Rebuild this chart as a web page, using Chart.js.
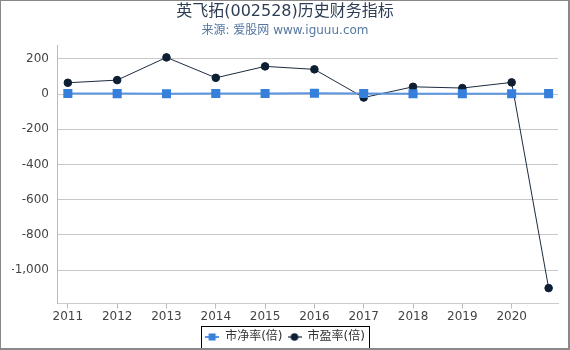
<!DOCTYPE html>
<html>
<head>
<meta charset="utf-8">
<script src="https://cdn.jsdelivr.net/npm/chart.js@4.4.1/dist/chart.umd.min.js"></script>
<style>
  html, body { margin: 0; padding: 0; background: #fff; }
  #wrap { position: absolute; left: 0; top: 0; width: 567px; height: 347px;
          border-left: 1px solid #888; border-top: 1px solid #888;
          border-right: 2px solid #888; border-bottom: 2px solid #888; overflow: hidden; }
  canvas { position: absolute; left: -1px; top: -1px; }
</style>
</head>
<body>
<div id="wrap"><canvas id="c" width="570" height="350"></canvas></div>
<script>
const titleText = '英飞拓(002528)历史财务指标';
const subtitleText = '来源: 爱股网 www.iguuu.com';
const seriesNames = ['市净率(倍)', '市盈率(倍)'];
const xPositions = [2011, 2012, 2013, 2014, 2015, 2016, 2017, 2018, 2019, 2020, 2020.75];
const tickYears = [2011, 2012, 2013, 2014, 2015, 2016, 2017, 2018, 2019, 2020];
const yTicks = [-1000, -800, -600, -400, -200, 0, 200];
const pbValues = [3.5, 2.4, 2.0, 3.4, 3.0, 4.6, 2.6, 2.0, 1.7, 1.9, 2.2];
const peValues = [64, 79, 208, 92, 157, 140, -20, 41, 34, 66, -1102];

const FONT = '"DejaVu Sans", "Noto Sans CJK SC", sans-serif';
const pbLine = '#5d95e0', pbMark = '#3680dc';
const peLine = '#1b2b40', peMark = '#0e1f33';

function legendIcon(lineColor, markColor, shape) {
  const c = document.createElement('canvas');
  c.width = 14; c.height = 10;
  const g = c.getContext('2d');
  g.strokeStyle = lineColor; g.lineWidth = shape === 'rect' ? 2 : 1.2;
  g.beginPath(); g.moveTo(0, 5); g.lineTo(14, 5); g.stroke();
  g.fillStyle = markColor;
  if (shape === 'rect') { g.fillRect(3.5, 1.5, 7, 7); }
  else { g.beginPath(); g.arc(7, 5, 3.8, 0, Math.PI * 2); g.fill(); }
  return c;
}
const icons = [legendIcon(pbLine, pbMark, 'rect'), legendIcon(peLine, peMark, 'circle')];

const pts = (vals) => vals.map((v, i) => ({ x: xPositions[i], y: v }));

const legendBox = {
  id: 'legendBox',
  afterDraw(chart) {
    const boxes = chart.legend && chart.legend.legendHitBoxes;
    if (!boxes || !boxes.length) return;
    let l = Infinity, r = -Infinity, t = Infinity, b = -Infinity;
    boxes.forEach(h => { l = Math.min(l, h.left); r = Math.max(r, h.left + h.width);
      t = Math.min(t, h.top); b = Math.max(b, h.top + h.height); });
    const ctx = chart.ctx;
    ctx.save();
    ctx.strokeStyle = '#000'; ctx.lineWidth = 1;
    ctx.strokeRect(Math.round(l - 4) + 0.5, Math.round(t - 5) + 0.5, Math.round(r - l + 8), Math.round(b - t + 10));
    ctx.restore();
  }
};

new Chart(document.getElementById('c'), {
  type: 'line',
  data: {
    datasets: [
      { label: seriesNames[0], data: pts(pbValues), borderColor: pbLine, backgroundColor: pbMark,
        pointBackgroundColor: pbMark, pointBorderColor: pbMark, pointStyle: 'rect', pointRadius: 5,
        borderWidth: 2, tension: 0 },
      { label: seriesNames[1], data: pts(peValues), borderColor: peLine, backgroundColor: peMark,
        pointBackgroundColor: peMark, pointBorderColor: peMark, pointStyle: 'circle', pointRadius: 3.8,
        borderWidth: 1, tension: 0 }
    ]
  },
  options: {
    responsive: false,
    animation: false,
    devicePixelRatio: 1,
    layout: { padding: { left: 12, right: 12, top: 0, bottom: -3 } },
    plugins: {
      title: { display: true, text: titleText, color: '#2d3d55',
        font: { family: FONT, size: 16, weight: 'normal' }, padding: { top: 2, bottom: 2 } },
      subtitle: { display: true, text: subtitleText, color: '#5577a0',
        font: { family: FONT, size: 12, weight: 'normal' }, padding: { top: 0, bottom: 8 } },
      legend: { position: 'bottom',
        labels: { color: '#333', font: { family: FONT, size: 12 }, usePointStyle: true,
          pointStyleWidth: 14, padding: 5,
          generateLabels(chart) {
            return chart.data.datasets.map((ds, i) => ({ text: ds.label, pointStyle: icons[i],
              fillStyle: ds.backgroundColor, strokeStyle: ds.borderColor, lineWidth: 0,
              fontColor: '#333', datasetIndex: i, hidden: false }));
          } } },
      tooltip: { enabled: false }
    },
    scales: {
      x: { type: 'linear', min: 2010.78, max: 2020.94,
        afterBuildTicks(s) { s.ticks = tickYears.map(v => ({ value: v })); },
        afterFit(s) { s.height += 1; },
        grid: { drawOnChartArea: false, drawTicks: true, tickLength: 5, tickColor: '#bbb' },
        border: { color: '#ccc' },
        ticks: { color: '#444', font: { family: FONT, size: 12 }, padding: 1, maxRotation: 0, autoSkip: false,
          callback: v => String(v) } },
      y: { min: -1190, max: 275,
        afterBuildTicks(s) { s.ticks = yTicks.map(v => ({ value: v })); },
        afterFit(s) { s.width = 45; },
        grid: { drawTicks: false, color: '#c8c8c8' },
        border: { color: '#bbb' },
        ticks: { color: '#444', font: { family: FONT, size: 12 }, padding: 8 } }
    }
  },
  plugins: [legendBox]
});
</script>
</body>
</html>
